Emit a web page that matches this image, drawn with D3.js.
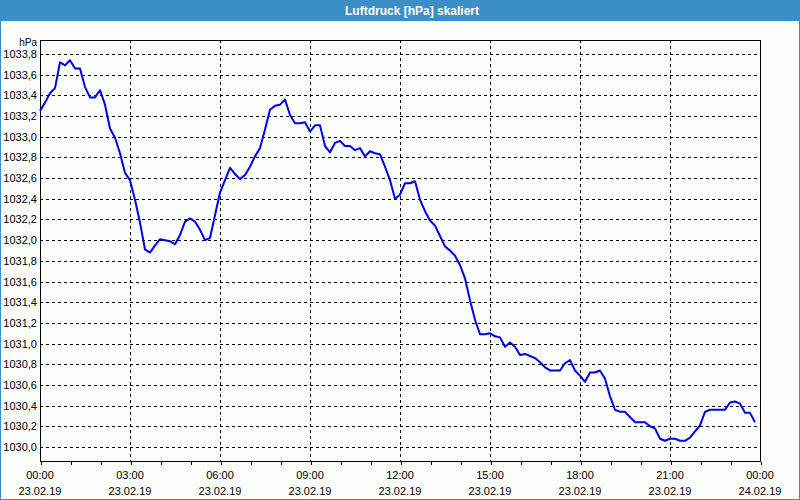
<!DOCTYPE html>
<html>
<head>
<meta charset="utf-8">
<script src="https://cdn.jsdelivr.net/npm/d3@7"></script>
<style>
  html, body { margin: 0; padding: 0; background: #fafdfa; }
  svg { display: block; }
  text { font-family: "Liberation Sans", Arial, sans-serif; }
</style>
</head>
<body>
<svg id="chart" width="800" height="500"></svg>
<script>
// ---- Data ----
const chartTitle = "Luftdruck [hPa] skaliert";
const unitLabel = "hPa";
const startTime = new Date(2019, 1, 23, 0, 0);   // 23.02.19 00:00
const stepMinutes = 10;                           // sampling interval
const pressure = [
  1033.25, 1033.33, 1033.42, 1033.47, 1033.72, 1033.69, 1033.74, 1033.66, 1033.66, 1033.48,
  1033.38, 1033.38, 1033.45, 1033.31, 1033.08, 1032.99, 1032.84, 1032.65, 1032.58, 1032.39,
  1032.17, 1031.91, 1031.88, 1031.95, 1032.01, 1032.00, 1031.99, 1031.96, 1032.05, 1032.18,
  1032.21, 1032.18, 1032.10, 1032.00, 1032.02, 1032.24, 1032.46, 1032.58, 1032.70, 1032.64,
  1032.59, 1032.63, 1032.71, 1032.81, 1032.89, 1033.07, 1033.26, 1033.30, 1033.31, 1033.36,
  1033.21, 1033.13, 1033.13, 1033.14, 1033.05, 1033.11, 1033.11, 1032.91, 1032.85, 1032.94,
  1032.96, 1032.91, 1032.91, 1032.87, 1032.89, 1032.81, 1032.86, 1032.84, 1032.83, 1032.71,
  1032.58, 1032.40, 1032.44, 1032.55, 1032.55, 1032.57, 1032.39, 1032.28, 1032.19, 1032.14,
  1032.04, 1031.94, 1031.90, 1031.85, 1031.76, 1031.63, 1031.42, 1031.23, 1031.09, 1031.09,
  1031.10, 1031.07, 1031.06, 1030.97, 1031.01, 1030.97, 1030.89, 1030.90, 1030.88, 1030.86,
  1030.82, 1030.77, 1030.74, 1030.74, 1030.74, 1030.81, 1030.84, 1030.74, 1030.69, 1030.63,
  1030.72, 1030.72, 1030.74, 1030.66, 1030.49, 1030.36, 1030.34, 1030.34, 1030.29, 1030.24,
  1030.24, 1030.24, 1030.20, 1030.18, 1030.08, 1030.06, 1030.08, 1030.08, 1030.06, 1030.06,
  1030.09, 1030.15, 1030.21, 1030.34, 1030.36, 1030.36, 1030.36, 1030.36, 1030.43, 1030.44,
  1030.42, 1030.33, 1030.33, 1030.24
];
const xTickTimes = ["00:00", "03:00", "06:00", "09:00", "12:00", "15:00", "18:00", "21:00", "00:00"];
const xTickDates = ["23.02.19", "23.02.19", "23.02.19", "23.02.19", "23.02.19", "23.02.19", "23.02.19", "23.02.19", "24.02.19"];
const yTicks = [1030.0, 1030.2, 1030.4, 1030.6, 1030.8, 1031.0, 1031.2, 1031.4, 1031.6, 1031.8,
                1032.0, 1032.2, 1032.4, 1032.6, 1032.8, 1033.0, 1033.2, 1033.4, 1033.6, 1033.8];

// ---- Layout ----
const W = 800, H = 500;
const plot = { left: 40, top: 40, right: 760, bottom: 461 };
const svg = d3.select("#chart");

const times = pressure.map((v, i) => d3.timeMinute.offset(startTime, i * stepMinutes));
const endTime = d3.timeDay.offset(startTime, 1);
const majorTicks = xTickTimes.map((t, i) => d3.timeHour.offset(startTime, i * 3));

const x = d3.scaleTime().domain([startTime, endTime]).range([plot.left, plot.right]);
// 1030.0 at y=447, 1033.8 at y=54
const y = d3.scaleLinear().domain([1030.0, 1033.8]).range([447, 54]);

// window frame
svg.append("rect").attr("x", 0.5).attr("y", 0.5).attr("width", W - 1).attr("height", H - 1)
  .attr("fill", "#fafdfa").attr("stroke", "#3c8fc6").attr("stroke-width", 1);
svg.append("rect").attr("x", 0).attr("y", 0).attr("width", W).attr("height", 21).attr("fill", "#3c8fc6");
svg.append("text").attr("x", 412).attr("y", 15).attr("text-anchor", "middle")
  .attr("fill", "#ffffff").attr("font-weight", "bold").attr("font-size", 12).text(chartTitle);

// grid
const grid = svg.append("g").attr("shape-rendering", "crispEdges");
grid.selectAll("line.h").data(yTicks).enter().append("line")
  .attr("x1", plot.left).attr("x2", plot.right)
  .attr("y1", d => Math.round(y(d)) + 0.5).attr("y2", d => Math.round(y(d)) + 0.5)
  .attr("stroke", "#000").attr("stroke-dasharray", "3,3");
grid.selectAll("line.v").data(majorTicks.slice(1)).enter().append("line")
  .attr("x1", d => Math.round(x(d)) + 0.5).attr("x2", d => Math.round(x(d)) + 0.5)
  .attr("y1", plot.top).attr("y2", plot.bottom)
  .attr("stroke", "#000").attr("stroke-dasharray", "3,3");

// x axis (hourly ticks, no labels)
const xAxis = d3.axisBottom(x).ticks(d3.timeHour.every(1)).tickSize(3).tickFormat("");
const gx = svg.append("g").attr("transform", `translate(0.5,${plot.bottom + 0.5})`).call(xAxis);
gx.select(".domain").remove();
gx.selectAll("line").attr("stroke", "#000").attr("shape-rendering", "crispEdges");

// x labels
const xl = svg.append("g").attr("font-size", 11).attr("fill", "#000").attr("text-anchor", "middle");
xl.selectAll("text.t").data(majorTicks).enter().append("text")
  .attr("x", d => x(d)).attr("y", 479).text((d, i) => xTickTimes[i]);
xl.selectAll("text.d").data(majorTicks).enter().append("text")
  .attr("x", d => x(d)).attr("y", 495).text((d, i) => xTickDates[i]);

// y labels
const fmt = v => d3.format(".1f")(v).replace(".", ",");
const yl = svg.append("g").attr("font-size", 11).attr("fill", "#000").attr("text-anchor", "end");
yl.selectAll("text").data(yTicks).enter().append("text")
  .attr("x", 37).attr("y", d => y(d) + 4).text(d => fmt(d));
svg.append("text").attr("x", 37).attr("y", 46).attr("text-anchor", "end")
  .attr("font-size", 10).text(unitLabel);

// plot frame
svg.append("rect").attr("x", plot.left + 0.5).attr("y", plot.top + 0.5)
  .attr("width", plot.right - plot.left).attr("height", plot.bottom - plot.top)
  .attr("fill", "none").attr("stroke", "#000").attr("shape-rendering", "crispEdges");

// line
const line = d3.line().x((d, i) => x(times[i])).y(d => y(d));
svg.append("path").datum(pressure).attr("d", line)
  .attr("fill", "none").attr("stroke", "#0000ee").attr("stroke-width", 2)
  .attr("stroke-linejoin", "round");
</script>
</body>
</html>
